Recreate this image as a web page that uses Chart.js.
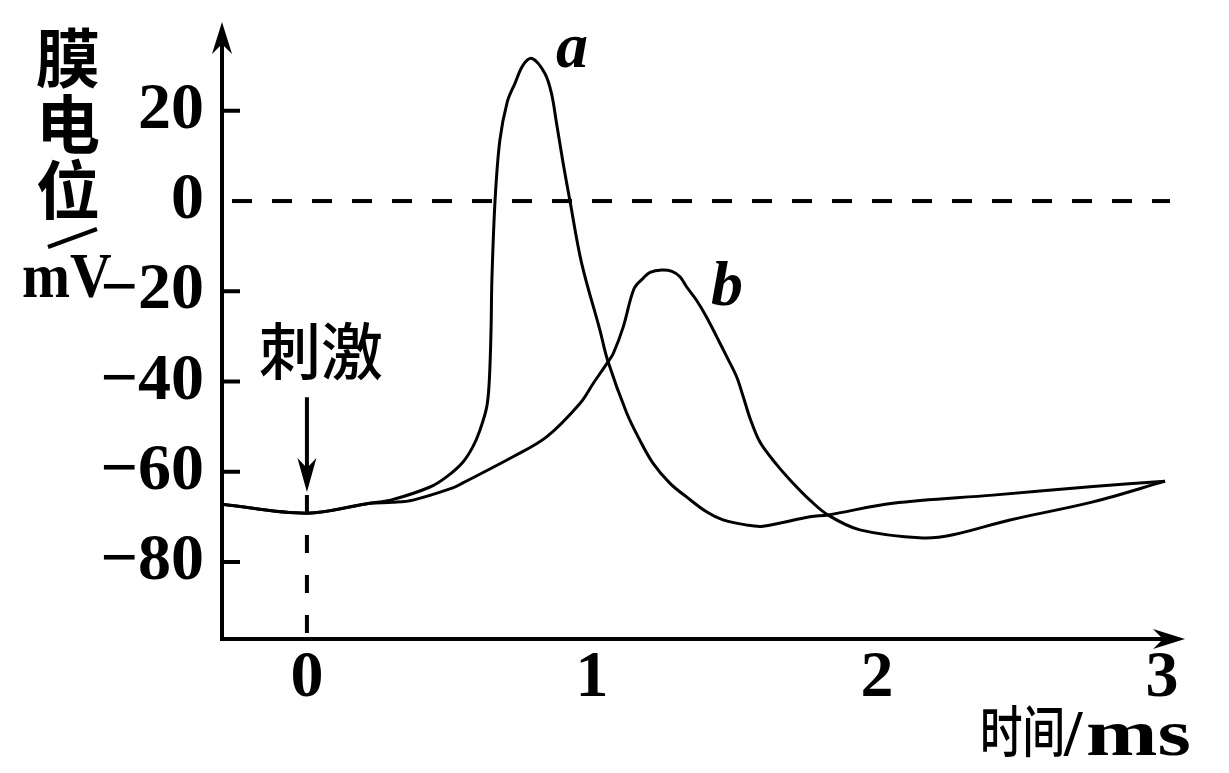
<!DOCTYPE html>
<html lang="zh">
<head>
<meta charset="utf-8">
<title>膜电位变化</title>
<script src="https://cdn.jsdelivr.net/npm/chart.js@4.4.1/dist/chart.umd.min.js"></script>
<style>
  html, body { margin: 0; padding: 0; background: #fff; }
  #wrap { width: 1229px; height: 773px; position: relative; }
</style>
</head>
<body>
<div id="wrap"><canvas id="chart"></canvas></div>
<script>
/* ── Data ────────────────────────────────────────────────── */

const xTicks = [0, 1, 2, 3];
const yTicks = [20, 0, -20, -40, -60, -80];
const stimTime = 0;

// curve a (ms, mV)
const aTime = [-0.298, 0, 0.221, 0.30, 0.432, 0.491, 0.547, 0.582, 0.607, 0.631, 0.640, 0.646, 0.649,
  0.660, 0.677, 0.703, 0.730, 0.759, 0.791, 0.835, 0.858, 0.876, 0.899, 0.923, 0.964,
  1.028, 1.055, 1.122, 1.168, 1.214, 1.274, 1.332, 1.402, 1.460, 1.540, 1.600, 1.765, 1.828,
  2.056, 2.407, 2.758, 3.011];
const aVolt = [-67.2, -69.2, -67.0, -66.2, -63.4, -61.1, -57.9, -54.5, -50.8, -45.6, -39.7, -28.6, -17.5,
  0, 13.5, 22.0, 26.1, 30.2, 31.6, 28.3, 23.9, 17.2, 8.4, 0, -13.8,
  -28.6, -35.3, -47.0, -53.0, -58.1, -62.6, -65.6, -68.9, -70.7, -71.8, -72.1, -70.0, -69.6,
  -67.0, -65.2, -63.3, -62.1];

// curve b (ms, mV)
const bTime = [-0.298, 0, 0.221, 0.30, 0.372, 0.512, 0.547, 0.723, 0.841, 0.958, 1.005, 1.057, 1.075,
  1.110, 1.148, 1.180, 1.204, 1.245, 1.281, 1.309, 1.332, 1.367, 1.402, 1.438, 1.473, 1.508,
  1.531, 1.555, 1.590, 1.649, 1.705, 1.765, 1.828, 1.940, 2.161, 2.267, 2.467, 2.758, 3.011];
const bVolt = [-67.2, -69.2, -67.0, -66.8, -66.3, -63.6, -62.5, -56.7, -52.3, -44.9, -40.4, -35.6, -33.8,
  -27.9, -19.4, -17.1, -15.8, -15.3, -15.6, -16.8, -19.0, -22.0, -25.7, -30.1, -34.5, -39.0,
  -43.4, -48.2, -53.5, -58.5, -62.5, -66.3, -69.6, -72.9, -74.7, -74.0, -70.7, -66.7, -62.1];

/* ── Style ───────────────────────────────────────────────── */

const BLACK = '#000';
const SERIF = '"Liberation Serif", "DejaVu Serif", serif';
const CJK = '"Noto Sans CJK SC", sans-serif';

function toPoints(xs, ys) {
  return xs.map((t, i) => ({ x: t, y: ys[i] }));
}

function minusLabel(v) {
  return v < 0 ? '\u2212' + Math.abs(v) : String(v);
}

// filled notched arrow head; (dx, dy) is the direction it points
function arrowHead(ctx, tx, ty, dx, dy, len, half, notch) {
  const nx = -dy, ny = dx;
  const bx = tx - dx * len, by = ty - dy * len;
  ctx.beginPath();
  ctx.moveTo(tx, ty);
  ctx.lineTo(bx + nx * half, by + ny * half);
  ctx.lineTo(tx - dx * notch, ty - dy * notch);
  ctx.lineTo(bx - nx * half, by - ny * half);
  ctx.closePath();
  ctx.fill();
}

function scaledText(ctx, text, x, y, sx) {
  ctx.save();
  ctx.translate(x, y);
  ctx.scale(sx, 1);
  ctx.fillText(text, 0, 0);
  ctx.restore();
}

/* ── Axes, dashed guides, arrows, labels ─────────────────── */

const figurePlugin = {
  id: 'figure',
  afterDatasetsDraw(chart) {
    const { ctx, chartArea: area } = chart;
    const xs = chart.scales.x, ys = chart.scales.y;
    ctx.save();
    ctx.strokeStyle = BLACK;
    ctx.fillStyle = BLACK;
    ctx.lineWidth = 4;

    // 0 mV guide
    const y0 = ys.getPixelForValue(0);
    ctx.setLineDash([20, 20]);
    ctx.beginPath();
    ctx.moveTo(area.left + 10, y0);
    ctx.lineTo(area.right - 15, y0);
    ctx.stroke();

    // stimulus guide
    const sx = xs.getPixelForValue(stimTime);
    ctx.setLineDash([18, 22]);
    ctx.beginPath();
    ctx.moveTo(sx, ys.getPixelForValue(-65.2));
    ctx.lineTo(sx, area.bottom);
    ctx.stroke();
    ctx.setLineDash([]);

    // axes
    ctx.beginPath();
    ctx.moveTo(area.left, area.bottom + 2);
    ctx.lineTo(area.left, area.top + 20);
    ctx.moveTo(area.left - 2, area.bottom);
    ctx.lineTo(area.right - 20, area.bottom);
    ctx.stroke();
    arrowHead(ctx, area.left, area.top, 0, -1, 32, 10, 22);
    arrowHead(ctx, area.right, area.bottom, 1, 0, 32, 10, 22);

    // inward tick marks
    ctx.beginPath();
    yTicks.filter(v => v !== 0).forEach(v => {
      const py = ys.getPixelForValue(v);
      ctx.moveTo(area.left, py);
      ctx.lineTo(area.left + 18, py);
    });
    ctx.stroke();

    // stimulus arrow
    const tipY = ys.getPixelForValue(-64.5);
    ctx.beginPath();
    ctx.moveTo(sx, ys.getPixelForValue(-43.5));
    ctx.lineTo(sx, tipY - 20);
    ctx.stroke();
    arrowHead(ctx, sx, tipY, 0, 1, 34, 9.5, 24);

    // texts
    ctx.textAlign = 'center';
    ctx.textBaseline = 'middle';
    ctx.font = `500 62px ${CJK}`;
    ctx.fillText('刺激', 321, 351);

    ctx.font = `bold 64px ${CJK}`;
    ['膜', '电', '位'].forEach((ch, i) => ctx.fillText(ch, 68, 58 + i * 66));

    ctx.beginPath();
    ctx.moveTo(48, 247);
    ctx.lineTo(97, 229);
    ctx.stroke();

    ctx.textAlign = 'left';
    ctx.textBaseline = 'alphabetic';
    ctx.font = `bold 64px ${SERIF}`;
    scaledText(ctx, 'mV', 22, 297, 0.9);

    ctx.font = `italic bold 64px ${SERIF}`;
    ctx.fillText('a', 556, 67);
    ctx.fillText('b', 711, 305);

    ctx.textBaseline = 'middle';
    ctx.font = `500 56px ${CJK}`;
    scaledText(ctx, '时间', 980, 731, 0.76);
    ctx.textBaseline = 'alphabetic';
    ctx.font = `bold 66px ${SERIF}`;
    ctx.fillText('/', 1064, 755);
    scaledText(ctx, 'ms', 1086, 755, 1.3);

    ctx.restore();
  }
};

/* ── Chart ───────────────────────────────────────────────── */

const lineStyle = {
  borderColor: BLACK,
  borderWidth: 3,
  pointRadius: 0,
  fill: false,
  tension: 0.35,
};

new Chart(document.getElementById('chart'), {
  type: 'line',
  data: {
    datasets: [
      { label: 'a', data: toPoints(aTime, aVolt), ...lineStyle },
      { label: 'b', data: toPoints(bTime, bVolt), ...lineStyle },
    ],
  },
  options: {
    responsive: true,
    maintainAspectRatio: false,
    animation: false,
    layout: { padding: { top: 22, right: 44, left: 0, bottom: 0 } },
    plugins: { legend: { display: false }, tooltip: { enabled: false } },
    scales: {
      x: {
        type: 'linear',
        min: -0.298,
        max: 3.081,
        border: { display: false },
        grid: { display: false, drawTicks: false },
        afterBuildTicks: s => { s.ticks = xTicks.map(v => ({ value: v })); },
        afterFit: s => { s.height = 134; s.paddingLeft = 0; s.paddingRight = 0; },
        ticks: {
          autoSkip: false,
          maxRotation: 0,
          padding: 0,
          color: BLACK,
          font: { family: SERIF, weight: 'bold', size: 66 },
          callback: v => String(v),
        },
      },
      y: {
        type: 'linear',
        min: -97.1,
        max: 39.7,
        border: { display: false },
        grid: { display: false, drawTicks: false },
        afterBuildTicks: s => { s.ticks = yTicks.map(v => ({ value: v })); },
        afterFit: s => { s.width = 222; s.paddingTop = 0; s.paddingBottom = 0; },
        ticks: {
          autoSkip: false,
          padding: 18,
          color: BLACK,
          font: { family: SERIF, weight: 'bold', size: 66 },
          callback: minusLabel,
        },
      },
    },
  },
  plugins: [figurePlugin],
});
</script>
</body>
</html>
